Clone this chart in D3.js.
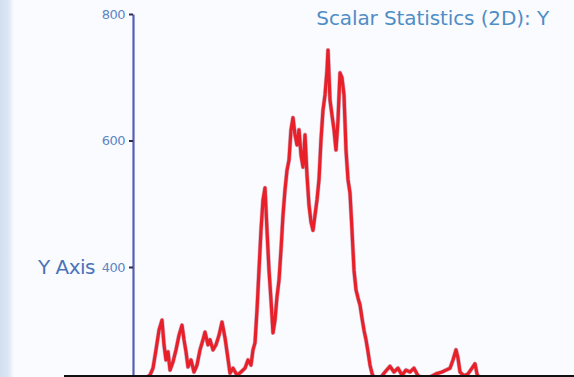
<!DOCTYPE html>
<html>
<head>
<meta charset="utf-8">
<script src="https://cdn.jsdelivr.net/npm/d3@7"></script>
<style>
  html, body { margin: 0; padding: 0; background: #fafbfe; overflow: hidden; }
  svg { display: block; }
</style>
</head>
<body>
<svg id="chart" width="574" height="377"></svg>
<script>
// ---- data ----
const titleText = "Scalar Statistics (2D): Y";
const yAxisLabel = "Y Axis";
const yTicks = [400, 600, 800];
const times = [2.5, 6, 8.5, 10, 11.5, 13, 14.5, 15.5, 16.5, 17.5, 18.5, 20, 21.5, 23, 24.5, 25.5, 26.5, 27.5, 29, 30.5,
  32, 33.5, 35, 36, 37.5, 38.5, 40, 41.5, 43, 44.5, 46, 47, 48.5, 50, 52, 54, 56, 57.5, 59, 60,
  61, 62, 63, 64, 65, 66, 67, 68, 69, 70, 71, 72, 73, 74, 75, 76, 77, 78, 79, 80,
  81, 82, 83, 84, 85, 86, 87, 88, 89, 90, 91, 92, 93, 94, 95, 96, 97, 97.5, 98.5, 99.5,
  100.5, 101.5, 102.5, 103.5, 104.5, 105.5, 106.5, 107.5, 108.5, 109.5, 110.5, 111.5, 112.5, 113.5, 114.5, 115.5, 116.5, 117.5, 118.5, 119.5,
  121, 123.5, 126, 128.5, 130.5, 132.5, 134.5, 136.5, 138.5, 140.5, 142.5, 145.5, 148.5, 151.5, 154.5, 156.5, 158.5, 160, 161.5, 162.5,
  163.5, 165.5, 167.5, 169.5, 171, 172, 173.5, 178.5, 183.5];
const yValues = [221, 224, 229, 240, 269, 300, 316, 277, 253, 266, 237, 250, 269, 292, 308, 285, 266, 242, 253, 234,
  245, 269, 285, 297, 277, 285, 269, 277, 292, 313, 288, 266, 232, 240, 229, 234, 240, 253, 245, 269,
  280, 332, 395, 458, 506, 525, 458, 395, 348, 296, 316, 353, 379, 427, 482, 522, 553, 569, 617, 636,
  609, 593, 617, 577, 558, 609, 545, 498, 471, 458, 482, 506, 538, 601, 648, 672, 711, 743, 664, 640,
  617, 585, 632, 707, 699, 672, 585, 538, 517, 458, 395, 364, 351, 340, 319, 300, 285, 266, 245, 232,
  221, 224, 234, 243, 234, 240, 229, 237, 234, 240, 228, 224, 226, 231, 234, 237, 240, 253, 269, 256,
  234, 228, 231, 240, 247, 231, 221, 218, 220];

const svg = d3.select("#chart");
const W = 574, H = 377;

// left panel strip
const defs = svg.append("defs");
const grad = defs.append("linearGradient").attr("id", "strip").attr("x1", "0").attr("x2", "1");
grad.append("stop").attr("offset", "0").attr("stop-color", "#d3dff1");
grad.append("stop").attr("offset", "0.55").attr("stop-color", "#dae4f3");
grad.append("stop").attr("offset", "1").attr("stop-color", "#fafbfe");
svg.append("rect").attr("x", 0).attr("y", 0).attr("width", 14).attr("height", H).attr("fill", "url(#strip)");

// scales
const x = d3.scaleLinear().domain([0, 200]).range([133, 533]);
const y = d3.scaleLinear().domain([0, 800]).range([520, 14]);

// data line
const line = d3.line().x((d, i) => x(times[i])).y(d => y(d));
svg.append("path")
  .datum(yValues)
  .attr("d", line)
  .attr("fill", "none")
  .attr("stroke", "#8a2a5a")
  .attr("stroke-width", 4.4)
  .attr("stroke-opacity", 0.35)
  .attr("stroke-linejoin", "round");
svg.append("path")
  .datum(yValues)
  .attr("d", line)
  .attr("fill", "none")
  .attr("stroke", "#e8202a")
  .attr("stroke-width", 3.2)
  .attr("stroke-linejoin", "round");

// y axis
const yAxis = d3.axisLeft(y).tickValues(yTicks).tickSize(4).tickSizeOuter(0);
const gy = svg.append("g").attr("transform", "translate(133,0)").call(yAxis);
gy.select(".domain").attr("stroke", "#5560b4").attr("stroke-width", 2.2);
gy.selectAll(".tick line").attr("stroke", "#2a2a55").attr("stroke-width", 2);
gy.selectAll(".tick text")
  .attr("fill", "#5c86c6")
  .attr("font-family", "'DejaVu Sans', sans-serif")
  .attr("font-size", 13)
  .attr("letter-spacing", -0.5)
  .attr("x", -8);

// axis label
svg.append("text")
  .attr("x", 95).attr("y", y(400))
  .attr("dy", "0.35em")
  .attr("text-anchor", "end")
  .attr("fill", "#4b73b9")
  .attr("font-family", "'DejaVu Sans', sans-serif")
  .attr("font-size", 20)
  .attr("letter-spacing", -0.5)
  .text(yAxisLabel);

// title
svg.append("text")
  .attr("x", 549).attr("y", 25)
  .attr("text-anchor", "end")
  .attr("fill", "#4f8dc6")
  .attr("font-family", "'DejaVu Sans', sans-serif")
  .attr("font-size", 20)
  .attr("letter-spacing", -0.1)
  .text(titleText);

// bottom rule
svg.append("line")
  .attr("x1", 64).attr("x2", W)
  .attr("y1", 376).attr("y2", 376)
  .attr("stroke", "#111")
  .attr("stroke-width", 2);
</script>
</body>
</html>
